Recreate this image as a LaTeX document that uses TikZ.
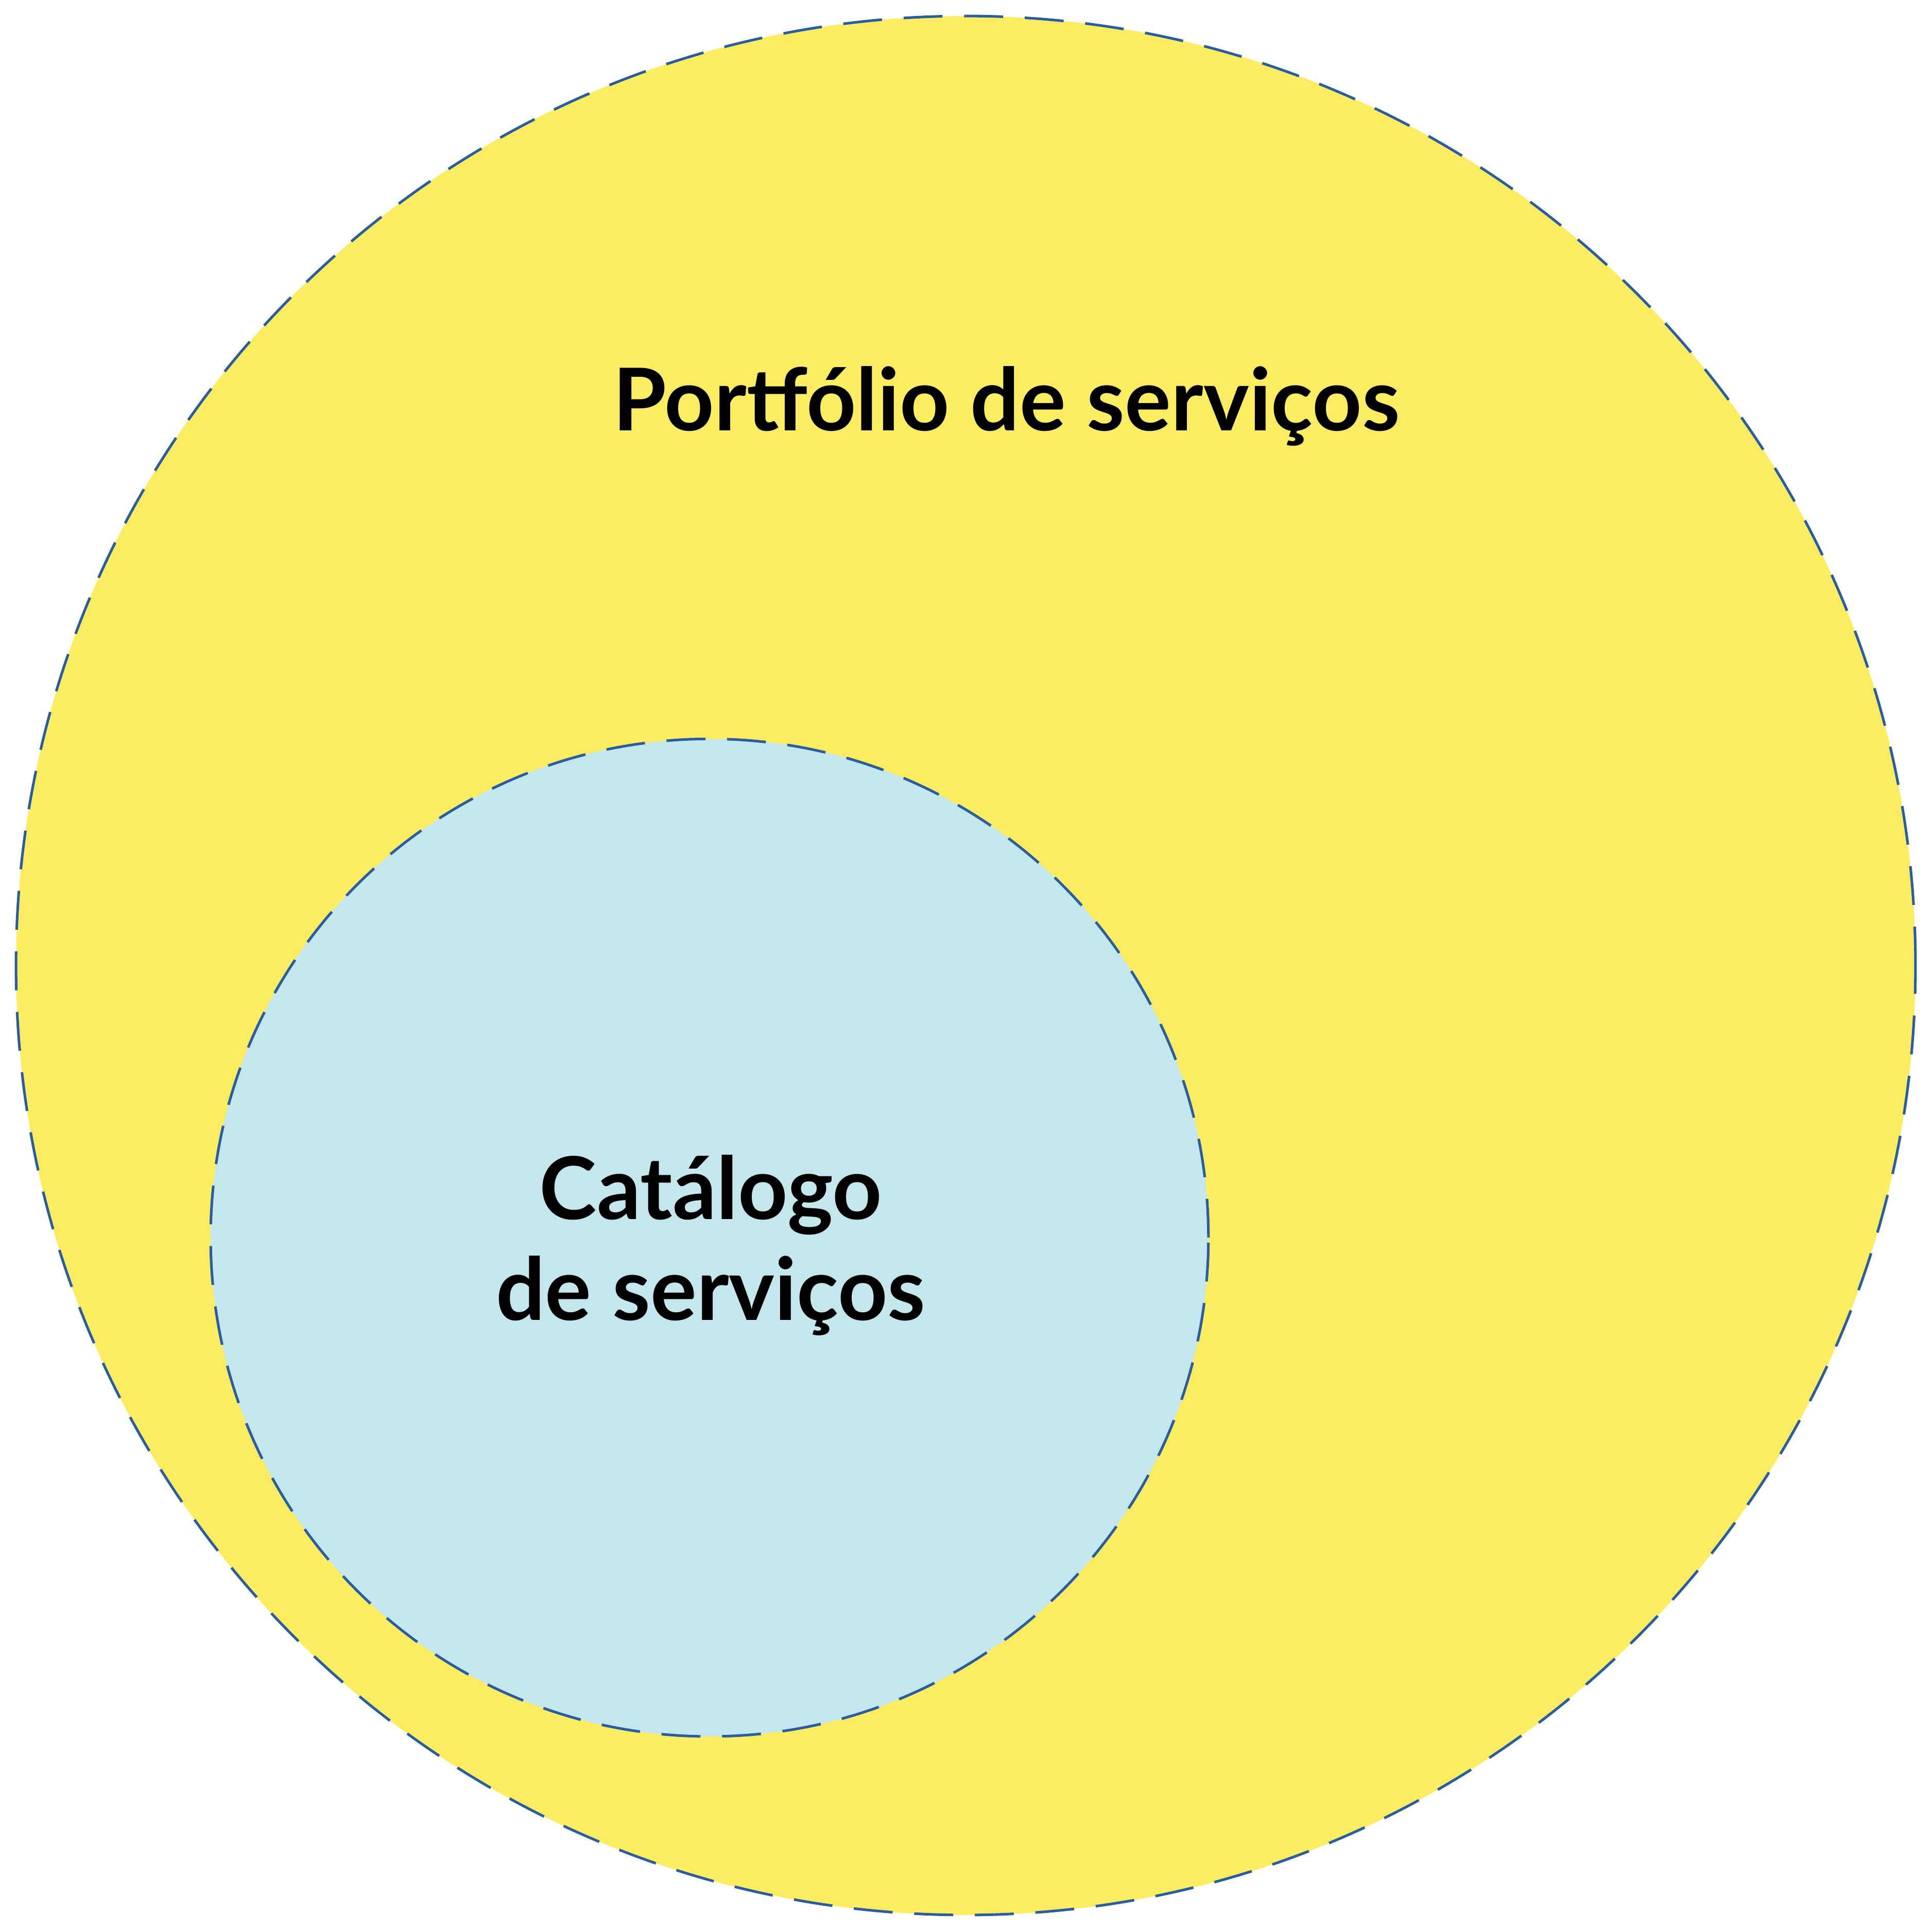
\documentclass[tikz,border=0pt]{standalone}
\usepackage{fontspec}
\setmainfont{Lato}
\definecolor{portyellow}{HTML}{FCEC62}
\definecolor{catblue}{HTML}{C4E6ED}
\definecolor{rimblue}{HTML}{2A5D9F}
\tikzset{setcircle/.style={circle, draw=rimblue, dash pattern=on 9pt off 5pt, line width=0.6pt},
         setlabel/.style={font=\fontsize{20}{23.3}\selectfont\bfseries, align=center, text=black}}
\begin{document}
\begin{tikzpicture}
  \useasboundingbox (0,0) rectangle (15.68,-15.68);
  % outer set
  \node[setcircle, fill=portyellow, minimum size=15.42cm] (portfolio) at (7.84,-7.84) {};
  % inner set
  \node[setcircle, fill=catblue, minimum size=8.10cm] (catalogo) at (5.76,-10.05) {};
  \node[setlabel] (portlabel) at (8.17,-3.30) {Portfólio de serviços};
  \node[setlabel] (catlabel) at (5.77,-10.11) {Catálogo\\de serviços};
\end{tikzpicture}
\end{document}
